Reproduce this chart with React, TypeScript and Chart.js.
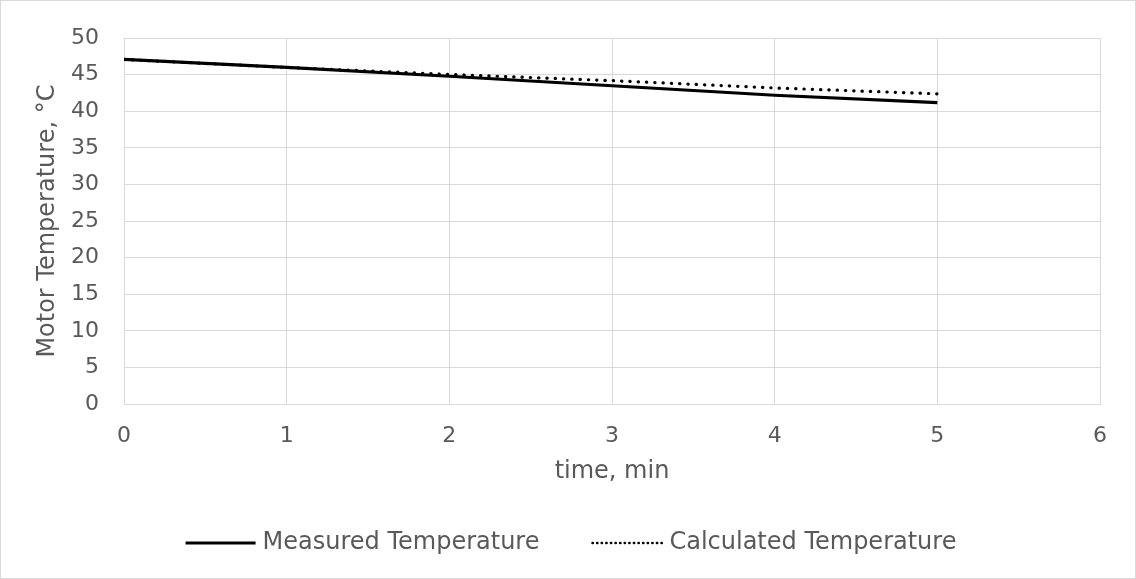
import React, { useEffect, useRef } from "react";
import { Chart, registerables } from "chart.js";

Chart.register(...registerables);

// Motor cooling over five minutes: measured vs. model
const timeMin = [0, 1, 2, 3, 4, 5];
const measuredTemp = [47.1, 46.0, 44.8, 43.5, 42.2, 41.2];
const calculatedTemp = [47.1, 46.0, 45.05, 44.2, 43.2, 42.4];
const seriesNames = ["Measured Temperature", "Calculated Temperature"];
const xTitle = "time, min";
const yTitle = "Motor Temperature, °C";

const FONT = "'DejaVu Sans', Verdana, sans-serif";
const TEXT = "#595959";
const GRID = "#d9d9d9";
const DOTS = [0.3, 8.0];

// Thin frame around the whole canvas
const framePlugin = {
  id: "frame",
  beforeDraw(chart: any) {
    const { ctx, width, height } = chart;
    ctx.save();
    ctx.fillStyle = "#ffffff";
    ctx.fillRect(0, 0, width, height);
    ctx.strokeStyle = GRID;
    ctx.lineWidth = 1;
    ctx.strokeRect(0.5, 0.5, width - 1, height - 1);
    ctx.restore();
  },
};

// Legend row along the bottom: line sample followed by series name
const bottomLegendPlugin = {
  id: "bottomLegend",
  afterDraw(chart: any) {
    const { ctx, width } = chart;
    const y = 543;
    const sampleW = 70;
    const textGap = 7;
    const itemGap = 53;
    ctx.save();
    ctx.font = `24px ${FONT}`;
    ctx.textBaseline = "middle";
    const items = chart.data.datasets.map((ds: any) => ({
      label: ds.label,
      dash: ds.borderDash || [],
      w: ctx.measureText(ds.label).width,
    }));
    const total = items.reduce(
      (s: number, it: any, i: number) => s + sampleW + textGap + it.w + (i > 0 ? itemGap : 0),
      0
    );
    let x = width / 2 - total / 2 + 3;
    items.forEach((it: any, i: number) => {
      if (i > 0) x += itemGap;
      ctx.beginPath();
      ctx.strokeStyle = "#000000";
      if (it.dash.length) {
        ctx.lineWidth = 2.4;
        ctx.lineCap = "round";
        ctx.setLineDash([0.4, 4.2]);
      } else {
        ctx.lineWidth = 3;
        ctx.lineCap = "butt";
        ctx.setLineDash([]);
      }
      ctx.moveTo(x, y);
      ctx.lineTo(x + sampleW, y);
      ctx.stroke();
      ctx.setLineDash([]);
      x += sampleW + textGap;
      ctx.fillStyle = TEXT;
      ctx.textAlign = "left";
      ctx.fillText(it.label, x, y);
      x += it.w;
    });
    ctx.restore();
  },
};

export default function App() {
  const canvasRef = useRef<HTMLCanvasElement | null>(null);

  useEffect(() => {
    if (!canvasRef.current) return;
    const toPoints = (ys: number[]) => timeMin.map((t, i) => ({ x: t, y: ys[i] }));
    const chart = new Chart(canvasRef.current, {
      type: "scatter",
      data: {
        datasets: [
          {
            label: seriesNames[0],
            data: toPoints(measuredTemp),
            showLine: true,
            borderColor: "#000000",
            backgroundColor: "#000000",
            borderWidth: 3.2,
            pointRadius: 0,
            pointHoverRadius: 0,
          },
          {
            label: seriesNames[1],
            data: toPoints(calculatedTemp),
            showLine: true,
            borderColor: "#000000",
            backgroundColor: "#000000",
            borderWidth: 3.2,
            borderDash: DOTS,
            borderCapStyle: "round",
            pointRadius: 0,
            pointHoverRadius: 0,
          },
        ],
      },
      options: {
        responsive: false,
        animation: false,
        events: [],
        layout: { padding: { top: 32, right: 36, bottom: 69, left: 0 } },
        plugins: {
          legend: { display: false },
          tooltip: { enabled: false },
        },
        scales: {
          x: {
            type: "linear",
            min: 0,
            max: 6,
            afterFit: (scale: any) => {
              scale.height = 106;
            },
            ticks: {
              stepSize: 1,
              color: TEXT,
              padding: 19,
              font: { family: FONT, size: 22 },
            },
            grid: { color: GRID, lineWidth: 1, drawTicks: false },
            border: { color: GRID, width: 1 },
            title: {
              display: true,
              text: xTitle,
              color: TEXT,
              font: { family: FONT, size: 24 },
              padding: { top: 0, bottom: 24 },
            },
          },
          y: {
            type: "linear",
            min: 0,
            max: 50,
            afterFit: (scale: any) => {
              scale.width = 124;
            },
            ticks: {
              stepSize: 5,
              color: TEXT,
              padding: 25,
              font: { family: FONT, size: 22 },
            },
            grid: { color: GRID, lineWidth: 1, drawTicks: false },
            border: { color: GRID, width: 1 },
            title: {
              display: true,
              text: yTitle,
              color: TEXT,
              font: { family: FONT, size: 24 },
              padding: { top: 33, bottom: 0 },
            },
          },
        },
      },
      plugins: [framePlugin, bottomLegendPlugin],
    });
    return () => chart.destroy();
  }, []);

  return (
    <div style={{ position: "absolute", left: 0, top: 0, width: 1136, height: 579 }}>
      <canvas ref={canvasRef} width={1136} height={579} style={{ display: "block" }} />
    </div>
  );
}
